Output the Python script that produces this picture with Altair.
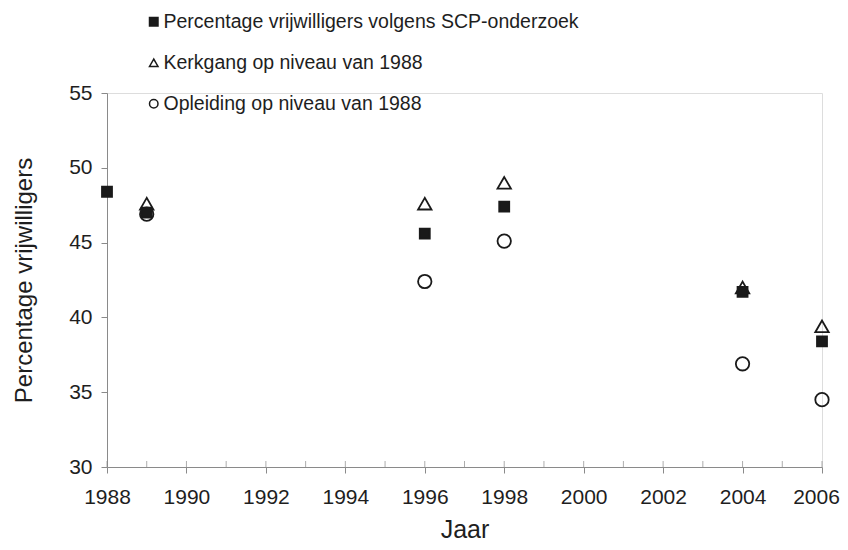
import altair as alt
import pandas as pd

# ---- data ----
series_names = [
    "Percentage vrijwilligers volgens SCP-onderzoek",
    "Kerkgang op niveau van 1988",
    "Opleiding op niveau van 1988",
]
years_scp = [1988, 1989, 1996, 1998, 2004, 2006]
scp = [48.4, 47.0, 45.6, 47.4, 41.7, 38.4]
years_other = [1989, 1996, 1998, 2004, 2006]
kerkgang = [47.6, 47.6, 49.0, 42.0, 39.4]
opleiding = [46.9, 42.4, 45.1, 36.9, 34.5]

label_years = list(range(1988, 2007, 2))
all_years = list(range(1988, 2007))
y_ticks = [30, 35, 40, 45, 50, 55]

shapes = ["square", "triangle-up", "circle"]
fills = ["#1a1a1a", "transparent", "transparent"]
strokes = ["#1a1a1a", "#1a1a1a", "#1a1a1a"]
sizes = [100, 180, 180]

frames = [
    pd.DataFrame({"jaar": years_scp, "waarde": scp, "reeks": series_names[0]}),
    pd.DataFrame({"jaar": years_other, "waarde": kerkgang, "reeks": series_names[1]}),
    pd.DataFrame({"jaar": years_other, "waarde": opleiding, "reeks": series_names[2]}),
]
ticks_df = pd.DataFrame({"jaar": all_years})

FONT = "Liberation Sans"
AXIS_GRAY = "#8a8a8a"
TEXT = "#1e1e1e"
MARK = "#1a1a1a"

x_scale = alt.Scale(domain=[1988, 2006], nice=False, zero=False)
y_scale = alt.Scale(domain=[30, 55], nice=False, zero=False)
shape_scale = alt.Scale(domain=series_names, range=shapes)
fill_scale = alt.Scale(domain=series_names, range=fills)
stroke_scale = alt.Scale(domain=series_names, range=strokes)

legend = alt.Legend(
    title=None,
    orient="none",
    legendX=37,
    legendY=-81,
    labelFont=FONT,
    labelFontSize=19.5,
    labelColor=TEXT,
    labelOffset=0,
    labelLimit=0,
    rowPadding=20,
    symbolSize=72,
    symbolStrokeColor=MARK,
    symbolStrokeWidth=1.5,
    symbolOpacity=1,
)

x_enc = alt.X(
    "jaar:Q",
    scale=x_scale,
    axis=alt.Axis(
        values=label_years,
        format="d",
        grid=False,
        tickSize=6,
        tickColor=AXIS_GRAY,
        domainColor=AXIS_GRAY,
        labelFont=FONT,
        labelFontSize=21,
        labelColor=TEXT,
        labelPadding=13,
        labelFlush=False,
        labelOffset={"condition": {"test": "datum.value == 2006", "value": -6}, "value": 0},
        title="Jaar",
        titleFont=FONT,
        titleFontSize=25,
        titleFontWeight="normal",
        titleColor=TEXT,
        titleY=62,
        titleBaseline="middle",
    ),
)
y_enc = alt.Y(
    "waarde:Q",
    scale=y_scale,
    axis=alt.Axis(
        values=y_ticks,
        grid=False,
        tickSize=6,
        tickColor=AXIS_GRAY,
        domainColor=AXIS_GRAY,
        labelFont=FONT,
        labelFontSize=21,
        labelColor=TEXT,
        labelPadding=9,
        labelFlush=False,
        title="Percentage vrijwilligers",
        titleFont=FONT,
        titleFontSize=24,
        titleFontWeight="normal",
        titleColor=TEXT,
        titleX=-83,
        titleY=187,
        titleAngle=-90,
        titleBaseline="middle",
        titleAlign="center",
    ),
)

layers = []
inner_ticks = alt.Chart(ticks_df).mark_tick(
    orient="vertical", color=AXIS_GRAY, thickness=1, size=6, yOffset=-3
).encode(
    x=alt.X("jaar:Q", scale=x_scale),
    y=alt.datum(30, scale=y_scale),
)
layers.append(inner_ticks)

for i, frame in enumerate(frames):
    layers.append(
        alt.Chart(frame).mark_point(
            filled=True, strokeWidth=1.8, opacity=1,
            fillOpacity=1, strokeOpacity=1, size=sizes[i]
        ).encode(
            x=x_enc,
            y=y_enc,
            shape=alt.Shape("reeks:N", scale=shape_scale, legend=legend),
            fill=alt.Fill("reeks:N", scale=fill_scale, legend=legend),
            stroke=alt.Stroke("reeks:N", scale=stroke_scale, legend=legend),
        )
    )

chart = alt.layer(*layers).properties(
    width=715,
    height=374,
    padding={"left": 99, "top": 85, "right": 18, "bottom": 75},
    autosize=alt.AutoSizeParams(type="none"),
).configure_view(stroke=None).configure(background="white")

chart.save("out.html", embed_options={"renderer": "svg", "actions": False})
